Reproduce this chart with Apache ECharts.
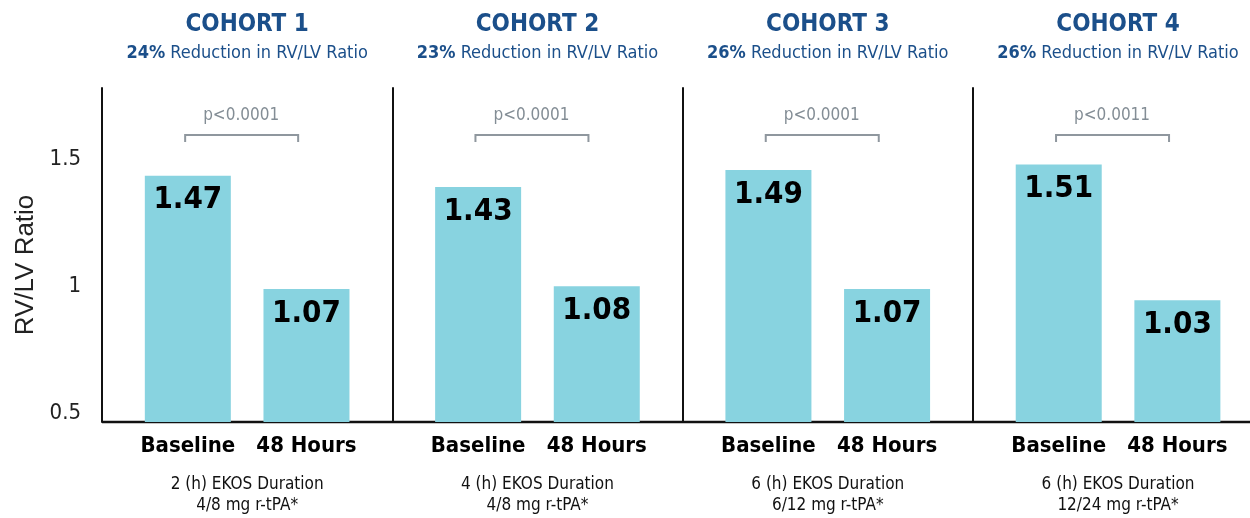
<!DOCTYPE html>
<html>
<head>
<meta charset="utf-8">
<script src="https://cdn.jsdelivr.net/npm/echarts@6/dist/echarts.min.js"></script>
<style>
  html, body { margin: 0; padding: 0; background: #fff; }
  #container { width: 1250px; height: 518px; }
</style>
</head>
<body>
<div id="container"></div>
<script>
// data
var cohorts = ['COHORT 1', 'COHORT 2', 'COHORT 3', 'COHORT 4'];
var reductions = ['24%', '23%', '26%', '26%'];
var pValues = ['p<0.0001', 'p<0.0001', 'p<0.0001', 'p<0.0011'];
var timepoints = ['Baseline', '48 Hours'];
var baseline = [1.47, 1.43, 1.49, 1.51];
var hours48 = [1.07, 1.08, 1.07, 1.03];
var durations = ['2 (h) EKOS Duration', '4 (h) EKOS Duration', '6 (h) EKOS Duration', '6 (h) EKOS Duration'];
var doses = ['4/8 mg r-tPA*', '4/8 mg r-tPA*', '6/12 mg r-tPA*', '12/24 mg r-tPA*'];
var yTicks = [0.5, 1, 1.5];

var FONT = "'Liberation Sans Narrow', 'DejaVu Sans Condensed', 'Roboto Condensed', 'Liberation Sans', sans-serif";
var BLUE = '#1b4f8a';
var GREY = '#838d95';
var BAR = '#88d3e0';

var dom = document.getElementById('container');
var myChart = echarts.init(dom, null, { renderer: 'canvas' });

var panelLeft = 102, panelW = 290.3, inset = 26.5, gridTop = 88, gridBottom = 96;

var grids = [], xAxes = [], yAxes = [], series = [];
for (var i = 0; i < cohorts.length; i++) {
    grids.push({
        left: panelLeft + i * panelW + inset,
        width: panelW - 2 * inset,
        top: gridTop,
        bottom: gridBottom
    });
    xAxes.push({
        type: 'category',
        gridIndex: i,
        data: timepoints,
        axisLine: { show: false },
        axisTick: { show: false },
        axisLabel: {
            interval: 0,
            margin: 13,
            fontFamily: FONT,
            fontWeight: 'bold',
            fontSize: 22,
            color: '#000'
        }
    });
    yAxes.push({
        type: 'value',
        gridIndex: i,
        min: 0.6,
        max: 1.78,
        offset: inset,
        axisLine: { show: true, lineStyle: { color: '#111', width: 2 } },
        axisTick: { show: false },
        axisLabel: { show: false },
        splitLine: { show: false }
    });
    series.push({
        type: 'bar',
        xAxisIndex: i,
        yAxisIndex: i,
        barWidth: 86,
        data: [baseline[i], hours48[i]],
        itemStyle: { color: BAR },
        label: {
            show: true,
            position: 'insideTop',
            distance: 9,
            formatter: function (p) { return p.value.toFixed(2); },
            fontFamily: FONT,
            fontWeight: 'bold',
            fontSize: 31,
            color: '#000'
        }
    });
}

// tick labels and axis name
yAxes.push({
    type: 'value',
    gridIndex: 0,
    position: 'left',
    offset: inset,
    min: 0.4665,
    max: 1.7815,
    axisLine: { show: false },
    axisTick: { show: false },
    splitLine: { show: false },
    axisLabel: {
        customValues: yTicks,
        verticalAlign: 'middle',
        margin: 21,
        fontFamily: FONT,
        fontSize: 22,
        color: '#222'
    },
    name: 'RV/LV Ratio',
    nameLocation: 'middle',
    nameRotate: 90,
    nameGap: 63,
    nameTextStyle: {
        fontFamily: "'Liberation Sans', sans-serif",
        fontSize: 26,
        color: '#222',
        padding: [0, 20, 0, 0]
    }
});

var option = {
    animation: false,
    backgroundColor: '#fff',
    grid: grids,
    xAxis: xAxes,
    yAxis: yAxes,
    series: series
};

myChart.setOption(option);

// annotations placed from the bars' pixel positions
var graphics = [];
var axisY = myChart.convertToPixel({ seriesIndex: 0 }, [0, 0.6])[1];
graphics.push({
    type: 'line',
    shape: { x1: panelLeft, y1: axisY, x2: 1250, y2: axisY },
    style: { stroke: '#111', lineWidth: 2.5 }
});
for (var j = 0; j < cohorts.length; j++) {
    var a = myChart.convertToPixel({ seriesIndex: j }, [0, baseline[j]]);
    var b = myChart.convertToPixel({ seriesIndex: j }, [1, hours48[j]]);
    var cx = (a[0] + b[0]) / 2;
    graphics.push({
        type: 'text',
        style: {
            text: cohorts[j], x: cx, y: 25,
            align: 'center', verticalAlign: 'middle',
            fontFamily: FONT, fontWeight: 'bold', fontSize: 24, fill: BLUE
        }
    });
    graphics.push({
        type: 'text',
        style: {
            text: '{b|' + reductions[j] + '} Reduction in RV/LV Ratio', x: cx, y: 53,
            align: 'center', verticalAlign: 'middle',
            fontFamily: FONT, fontSize: 18, fill: BLUE,
            rich: { b: { fontFamily: FONT, fontWeight: 'bold', fontSize: 18, fill: BLUE } }
        }
    });
    graphics.push({
        type: 'text',
        style: {
            text: pValues[j], x: cx - 6, y: 116,
            align: 'center', verticalAlign: 'middle',
            fontFamily: FONT, fontSize: 17, fill: GREY
        }
    });
    graphics.push({
        type: 'polyline',
        shape: { points: [[cx - 62, 142], [cx - 62, 135], [cx + 51, 135], [cx + 51, 142]] },
        style: { stroke: '#8f979e', lineWidth: 2, fill: null }
    });
    graphics.push({
        type: 'text',
        style: {
            text: durations[j] + '\n' + doses[j], x: cx, y: 474,
            align: 'center', verticalAlign: 'top', lineHeight: 21,
            fontFamily: FONT, fontSize: 17, fill: '#111'
        }
    });
}
myChart.setOption({ graphic: graphics });

window.addEventListener('resize', myChart.resize);
</script>
</body>
</html>
